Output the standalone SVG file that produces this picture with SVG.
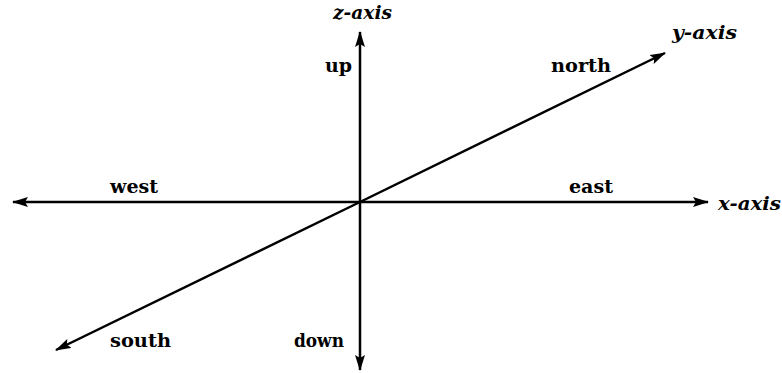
<svg xmlns="http://www.w3.org/2000/svg" width="782" height="373" viewBox="0 0 782 373">
<style>
.lbl{font-family:"DejaVu Serif","Liberation Serif",serif;font-weight:bold;font-size:19px;fill:#000}
.ax{font-family:"DejaVu Serif","Liberation Serif",serif;font-weight:bold;font-style:italic;font-size:19px;fill:#000}
.ln{stroke:#000;stroke-width:2.5;fill:none;marker-end:url(#ah)}
</style>
<defs>
<marker id="ah" viewBox="0 0 16 10" refX="15" refY="5" markerWidth="16" markerHeight="10" markerUnits="userSpaceOnUse" orient="auto">
<path d="M0,0 L16,5 L0,10 L3,5 Z" fill="#000"/>
</marker>
</defs>
<rect width="782" height="373" fill="#fff"/>
<g id="connectors">
<line class="ln" x1="360" y1="202" x2="360" y2="32"/>
<line class="ln" x1="360" y1="202" x2="360" y2="370"/>
<line class="ln" x1="360" y1="202" x2="13" y2="202"/>
<line class="ln" x1="360" y1="202" x2="708" y2="202"/>
<line class="ln" x1="360" y1="202" x2="665" y2="53"/>
<line class="ln" x1="360" y1="202" x2="56" y2="350"/>
</g>
<g id="z-axis"><text class="ax" x="333" y="19" textLength="59" lengthAdjust="spacingAndGlyphs">z-axis</text></g>
<g id="y-axis"><text class="ax" x="672" y="39" textLength="65" lengthAdjust="spacingAndGlyphs">y-axis</text></g>
<g id="x-axis"><text class="ax" x="718" y="210" textLength="63" lengthAdjust="spacingAndGlyphs">x-axis</text></g>
<g id="up"><text class="lbl" x="325" y="72" textLength="27" lengthAdjust="spacingAndGlyphs">up</text></g>
<g id="north"><text class="lbl" x="551" y="72" textLength="60" lengthAdjust="spacingAndGlyphs">north</text></g>
<g id="west"><text class="lbl" x="110" y="193" textLength="48" lengthAdjust="spacingAndGlyphs">west</text></g>
<g id="east"><text class="lbl" x="569" y="193" textLength="44" lengthAdjust="spacingAndGlyphs">east</text></g>
<g id="south"><text class="lbl" x="110" y="347" textLength="61" lengthAdjust="spacingAndGlyphs">south</text></g>
<g id="down"><text class="lbl" x="294" y="347" textLength="50" lengthAdjust="spacingAndGlyphs">down</text></g>
</svg>
